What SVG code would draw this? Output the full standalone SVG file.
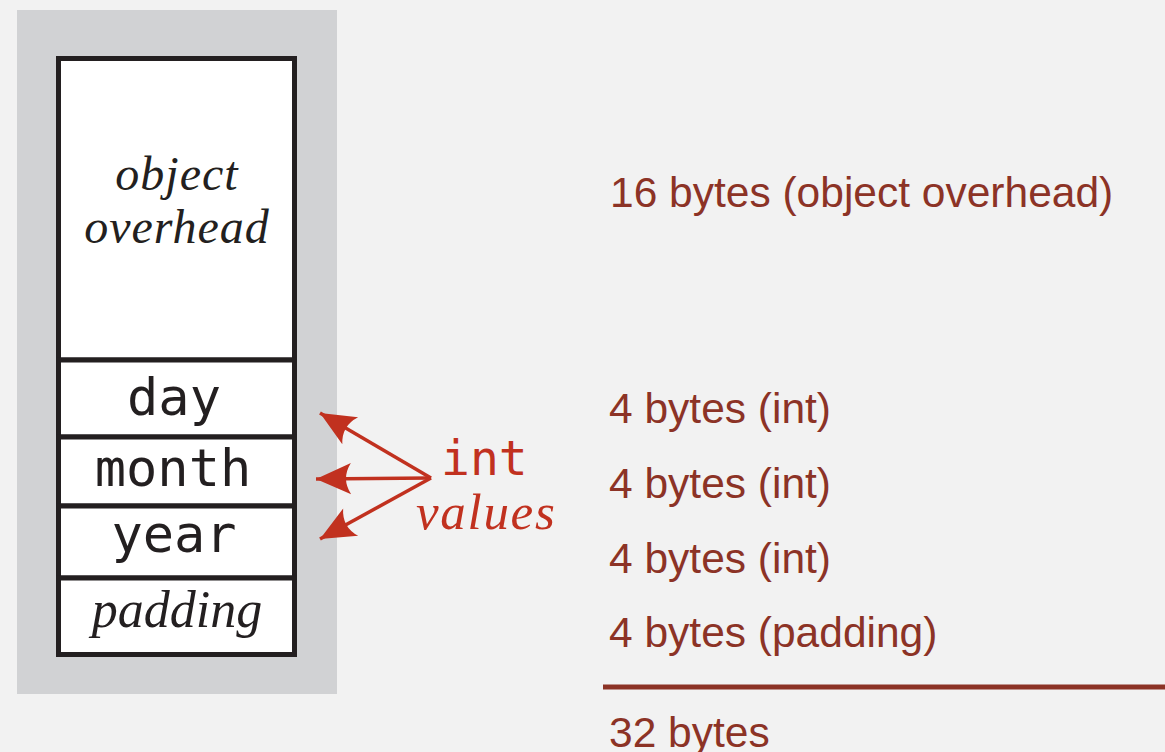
<svg xmlns="http://www.w3.org/2000/svg" width="1165" height="752" viewBox="0 0 1165 752">
<defs>
<style>
.cell{fill:#ffffff;stroke:#231f20;stroke-width:5}
.ital{font-family:"Liberation Serif","DejaVu Serif",serif;font-style:italic;fill:#231f20;text-anchor:middle}
.mono{font-family:"DejaVu Sans Mono","Liberation Mono",monospace;fill:#231f20;text-anchor:middle;font-size:52px}
.note{font-family:"Liberation Sans",Arial,sans-serif;fill:#8c3326;font-size:42.5px}
.arr{stroke:#c1311f;stroke-width:3.5;fill:none;marker-end:url(#head)}
</style>
<marker id="head" markerUnits="userSpaceOnUse" markerWidth="40" markerHeight="40" viewBox="-30 -15 32 30" refX="0" refY="0" orient="auto">
<path d="M0,0 L-28,-12.5 Q-20,0 -28,12.5 Z" fill="#c1311f"/>
</marker>
</defs>
<rect x="0" y="0" width="1165" height="752" fill="#f2f2f2"/>
<rect x="17" y="10" width="320" height="684" fill="#d1d2d4"/>
<g id="node-overhead">
<rect class="cell" x="58.5" y="58.5" width="236" height="301.5"/>
<text class="ital" x="177" y="190" font-size="48" letter-spacing="1">object</text>
<text class="ital" x="177" y="243" font-size="48" letter-spacing="1">overhead</text>
</g>
<g id="node-day">
<rect class="cell" x="58.5" y="360" width="236" height="77"/>
<text class="mono" x="174" y="415">day</text>
</g>
<g id="node-month">
<rect class="cell" x="58.5" y="437" width="236" height="69"/>
<text class="mono" x="173" y="486">month</text>
</g>
<g id="node-year">
<rect class="cell" x="58.5" y="506" width="236" height="72"/>
<text class="mono" x="174" y="552">year</text>
</g>
<g id="node-padding">
<rect class="cell" x="58.5" y="578" width="236" height="76.5"/>
<text class="ital" x="177" y="627" font-size="52">padding</text>
</g>
<g id="connectors">
<line class="arr" x1="431" y1="478" x2="320" y2="413"/>
<line class="arr" x1="431" y1="478" x2="316" y2="479"/>
<line class="arr" x1="431" y1="478" x2="320" y2="539"/>
</g>
<g id="label-int">
<text x="441" y="475" font-family="DejaVu Sans Mono,Liberation Mono,monospace" font-size="48" fill="#c1311f">int</text>
<text x="416" y="529" font-family="Liberation Serif,DejaVu Serif,serif" font-style="italic" font-size="51" letter-spacing="1.7" fill="#c1311f">values</text>
</g>
<g id="notes">
<text class="note" x="610" y="207">16 bytes (object overhead)</text>
<text class="note" x="609" y="423">4 bytes (int)</text>
<text class="note" x="609" y="498">4 bytes (int)</text>
<text class="note" x="609" y="573">4 bytes (int)</text>
<text class="note" x="609" y="647">4 bytes (padding)</text>
<line x1="603" y1="687" x2="1165" y2="687" stroke="#8c3326" stroke-width="5"/>
<text class="note" x="609" y="747">32 bytes</text>
</g>
</svg>
